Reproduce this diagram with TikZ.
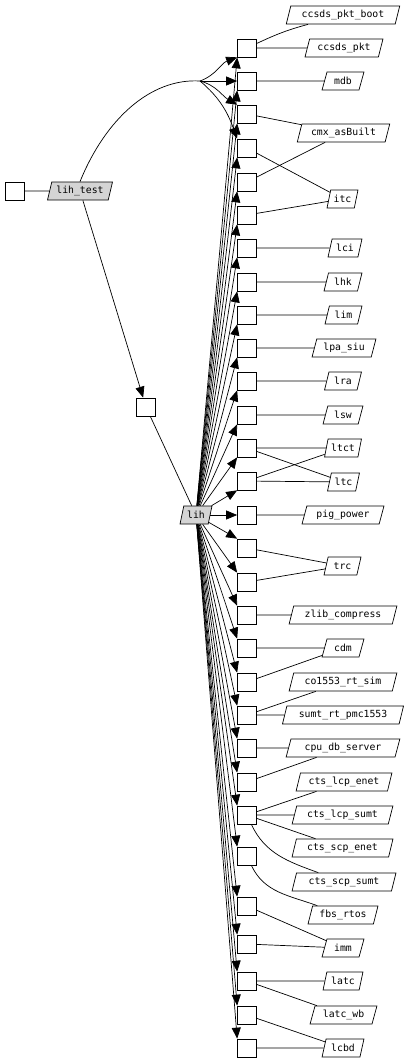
\documentclass[tikz,border=0pt]{standalone}
\usepackage{fontspec}
\setmonofont{DejaVu Sans Mono}
\usetikzlibrary{shapes.geometric,arrows.meta}
\begin{document}
\begin{tikzpicture}[
  box/.style={draw, line width=0.7pt, minimum width=19pt, minimum height=18pt, inner sep=0pt},
  para/.style={draw, line width=0.7pt, trapezium, trapezium left angle=70, trapezium right angle=110,
    trapezium stretches=true, minimum height=18pt, inner sep=0pt, font=\fontsize{9.8}{11}\ttfamily},
  gpara/.style={para, fill=black!17},
  ln/.style={line width=0.7pt},
  arr/.style={ln, -{Triangle[length=11pt,width=9pt]}},
]
\useasboundingbox (0,0) rectangle (410pt,-1062pt);
\begin{scope}[x=1pt,y=1pt]
% left part
\node[box] (lsq) at (15,-191) {};
\node[gpara, minimum width=65pt] (lihtest) at (80,-191) {lih\_test};
\node[box] (msq) at (146,-407) {};
\node[gpara, minimum width=32pt] (lih) at (196,-515) {lih};

% column of boxes
\foreach \y [count=\i] in {48,81,114,148,182,215,248,282,315,348,381,415,448,481,515,548,582,615,648,682,715,748,782,815,856,906,944,981,1015,1048}
  \node[box] (b\i) at (247,-\y) {};

% right labels
\node[para, minimum width=114pt] (pboot) at (343,-15) {ccsds\_pkt\_boot};
\node[para, minimum width=78pt] (pccsds) at (344,-48) {ccsds\_pkt};
\node[para, minimum width=42pt] (pmdb) at (343,-81) {mdb};
\node[para, minimum width=93pt] (pcmx) at (343.5,-133) {cmx\_asBuilt};
\node[para, minimum width=31pt] (pitc) at (342.5,-199) {itc};
\node[para, minimum width=34pt] (plci) at (345,-248) {lci};
\node[para, minimum width=38pt] (plhk) at (343,-282) {lhk};
\node[para, minimum width=37pt] (plim) at (343.5,-315) {lim};
\node[para, minimum width=64pt] (plpa) at (344,-348) {lpa\_siu};
\node[para, minimum width=37pt] (plra) at (343,-381) {lra};
\node[para, minimum width=40pt] (plsw) at (343,-415) {lsw};
\node[para, minimum width=37pt] (pltct) at (343,-448) {ltct};
\node[para, minimum width=32pt] (pltc) at (343.5,-482) {ltc};
\node[para, minimum width=82pt] (ppig) at (343,-515) {pig\_power};
\node[para, minimum width=37pt] (ptrc) at (342.5,-566) {trc};
\node[para, minimum width=108pt] (pzlib) at (343,-615) {zlib\_compress};
\node[para, minimum width=42pt] (pcdm) at (343,-648) {cdm};
\node[para, minimum width=108pt] (pco) at (343,-682) {co1553\_rt\_sim};
\node[para, minimum width=122pt] (psumt) at (343,-715) {sumt\_rt\_pmc1553};
\node[para, minimum width=114pt] (pcpu) at (343,-748) {cpu\_db\_server};
\node[para, minimum width=96pt] (pcle) at (344,-782) {cts\_lcp\_enet};
\node[para, minimum width=101pt] (pcls) at (342.5,-815) {cts\_lcp\_sumt};
\node[para, minimum width=101pt] (pcse) at (342.5,-848) {cts\_scp\_enet};
\node[para, minimum width=104pt] (pcss) at (344,-882) {cts\_scp\_sumt};
\node[para, minimum width=70pt] (pfbs) at (343,-915) {fbs\_rtos};
\node[para, minimum width=42pt] (pimm) at (343,-948) {imm};
\node[para, minimum width=40pt] (platc) at (343,-981) {latc};
\node[para, minimum width=67pt] (platcwb) at (343.5,-1015) {latc\_wb};
\node[para, minimum width=42pt] (plcbd) at (343,-1048) {lcbd};

% left edges
\draw[ln] (lsq) -- (lihtest);
\draw[arr] (lihtest) -- (msq);
\draw[ln] (msq) -- (lih);
\coordinate (fan) at (200,-81);
\draw[ln] (lihtest.north) .. controls (105,-120) and (150,-78) .. (fan);
\draw[arr] (fan) to[out=20,in=200] (b1.south west);
\draw[arr] (fan) -- (b2.west);
\draw[arr] (fan) to[out=-15,in=150] (b3.north west);
\draw[arr] (fan) to[out=-40,in=110] (b4.north west);

% lih fan
\foreach \i in {1,...,14} \draw[arr] (lih) -- (b\i.south west);
\draw[arr] (lih) -- (b15);
\foreach \i in {16,...,30} \draw[arr] (lih) -- (b\i.north west);

% right edges
\draw[ln] (b1) to[out=25,in=195] (pboot);
\draw[ln] (b1) -- (pccsds);
\draw[ln] (b2) -- (pmdb);
\draw[ln] (b3) -- (pcmx);
\draw[ln] (b4) -- (pitc);
\draw[ln] (b5) -- (pcmx);
\draw[ln] (b6) -- (pitc);
\draw[ln] (b7) -- (plci);
\draw[ln] (b8) -- (plhk);
\draw[ln] (b9) -- (plim);
\draw[ln] (b10) -- (plpa);
\draw[ln] (b11) -- (plra);
\draw[ln] (b12) -- (plsw);
\draw[ln] (b13) -- (pltct);
\draw[ln] (b13) -- (pltc);
\draw[ln] (b14) -- (pltct);
\draw[ln] (b14) -- (pltc);
\draw[ln] (b15) -- (ppig);
\draw[ln] (b16) -- (ptrc);
\draw[ln] (b17) -- (ptrc);
\draw[ln] (b18) -- (pzlib);
\draw[ln] (b19) -- (pcdm);
\draw[ln] (b20) -- (pcdm);
\draw[ln] (b21) -- (pco);
\draw[ln] (b21) -- (psumt);
\draw[ln] (b22) -- (pcpu);
\draw[ln] (b23) -- (pcpu);
\draw[ln] (b24) -- (pcle);
\draw[ln] (b24) -- (pcls);
\draw[ln] (b24) -- (pcse);
\draw[ln] (b24) to[out=-65,in=160] (pcss);
\draw[ln] (b25) to[out=-65,in=160] (pfbs);
\draw[ln] (b26) -- (pimm);
\draw[ln] (b27) -- (pimm);
\draw[ln] (b28) -- (platc);
\draw[ln] (b28) -- (platcwb);
\draw[ln] (b29) -- (plcbd);
\draw[ln] (b30) -- (plcbd);
\end{scope}
\end{tikzpicture}
\end{document}
